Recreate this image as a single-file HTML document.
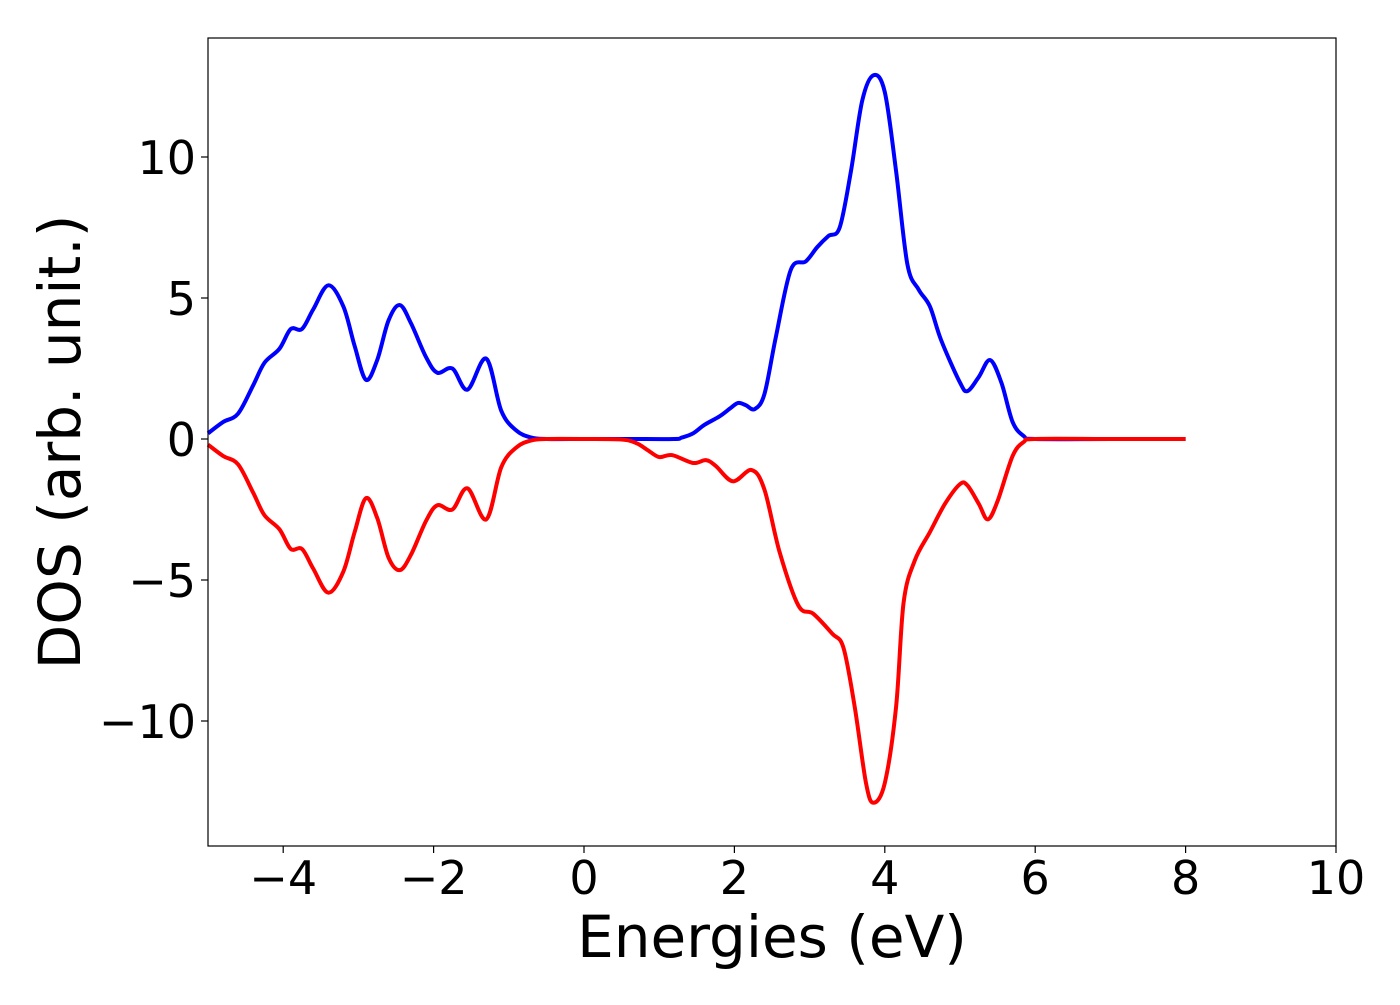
<!DOCTYPE html>
<html><head><meta charset="utf-8"><style>
html,body{margin:0;padding:0;background:#fff;}
svg text{font-family:"DejaVu Sans","Liberation Sans",sans-serif;fill:#000;}
</style></head><body>
<svg id="chart" width="1400" height="1000" xmlns="http://www.w3.org/2000/svg">
<rect width="1400" height="1000" fill="#fff"/>
<g id="ticks"></g>
<path id="spin-up" fill="none" stroke="#0000ff" stroke-width="4" stroke-linejoin="round"/>
<path id="spin-down" fill="none" stroke="#ff0000" stroke-width="4" stroke-linejoin="round"/>
<rect x="208" y="38" width="1128" height="808" fill="none" stroke="#000" stroke-width="1.2"/>
<text x="772" y="957" font-size="58" text-anchor="middle">Energies (eV)</text>
<text transform="translate(80,442) rotate(-90)" font-size="58" text-anchor="middle">DOS (arb. unit.)</text>
</svg>
<script>
const upE = [-5,-4.8,-4.6,-4.4,-4.25,-4.05,-3.9,-3.75,-3.6,-3.4,-3.2,-3.05,-2.9,-2.75,-2.6,-2.45,-2.3,-2.1,-1.95,-1.75,-1.55,-1.3,-1.1,-0.9,-0.7,-0.5,0,0.6,1.2,1.3,1.45,1.6,1.8,1.95,2.05,2.15,2.27,2.4,2.55,2.75,2.95,3.1,3.25,3.4,3.55,3.7,3.85,4.0,4.15,4.3,4.45,4.6,4.75,5.0,5.1,5.25,5.4,5.55,5.7,5.85,6.0,7,8];
const upDOS = [0.2,0.6,0.9,1.9,2.7,3.2,3.9,3.9,4.6,5.45,4.7,3.3,2.1,2.8,4.2,4.75,4.1,2.9,2.35,2.5,1.75,2.85,1.0,0.3,0.05,0,0,0,0,0.05,0.2,0.5,0.8,1.1,1.28,1.2,1.06,1.6,3.6,6.0,6.3,6.8,7.2,7.5,9.5,12.0,12.9,12.3,9.5,6.2,5.3,4.7,3.5,2.0,1.7,2.2,2.8,2.0,0.6,0.1,0,0,0];
const dnE = [-5,-4.8,-4.6,-4.4,-4.25,-4.05,-3.9,-3.75,-3.6,-3.4,-3.2,-3.05,-2.9,-2.75,-2.6,-2.45,-2.3,-2.1,-1.95,-1.75,-1.55,-1.3,-1.1,-0.9,-0.7,-0.5,0,0.5,0.7,0.85,1.0,1.17,1.45,1.62,1.75,1.98,2.23,2.4,2.6,2.85,3.05,3.3,3.45,3.6,3.75,3.85,4.0,4.15,4.25,4.4,4.6,4.8,5.0,5.1,5.25,5.37,5.5,5.7,5.85,6.0,7,8];
const dnDOS = [-0.2,-0.6,-0.9,-1.9,-2.7,-3.2,-3.9,-3.9,-4.6,-5.45,-4.7,-3.3,-2.1,-2.8,-4.2,-4.65,-4.1,-2.9,-2.35,-2.5,-1.75,-2.85,-1.0,-0.3,-0.05,0,0,-0.02,-0.15,-0.4,-0.64,-0.57,-0.85,-0.75,-0.95,-1.5,-1.1,-1.8,-4.0,-5.9,-6.2,-6.9,-7.4,-9.5,-12.2,-12.9,-12.2,-9.5,-5.8,-4.3,-3.3,-2.3,-1.6,-1.65,-2.3,-2.85,-2.2,-0.6,-0.1,0,0,0];
const xTicks = [-4,-2,0,2,4,6,8,10];
const xTickLabels = ["−4","−2","0","2","4","6","8","10"];
const yTicks = [-10,-5,0,5,10];
const yTickLabels = ["−10","−5","0","5","10"];

const X = e => 584 + 75.2*e;
const Y = d => 439 - 28.2*d;
function pathFor(es, ds){
  const p = es.map((e,i)=>[X(e),Y(ds[i])]);
  let s = `M${p[0][0]},${p[0][1]}`;
  for(let i=0;i<p.length-1;i++){
    const p0=p[Math.max(0,i-1)],p1=p[i],p2=p[i+1],p3=p[Math.min(p.length-1,i+2)];
    const c1=[p1[0]+(p2[0]-p0[0])/6,p1[1]+(p2[1]-p0[1])/6];
    const c2=[p2[0]-(p3[0]-p1[0])/6,p2[1]-(p3[1]-p1[1])/6];
    s+=` C${c1[0]},${c1[1]} ${c2[0]},${c2[1]} ${p2[0]},${p2[1]}`;
  }
  return s;
}
document.getElementById('spin-up').setAttribute('d', pathFor(upE, upDOS));
document.getElementById('spin-down').setAttribute('d', pathFor(dnE, dnDOS));
const NS='http://www.w3.org/2000/svg', g=document.getElementById('ticks');
xTicks.forEach((t,i)=>{
  const l=document.createElementNS(NS,'line');
  
  
  l.setAttribute('x1',X(t));l.setAttribute('x2',X(t));l.setAttribute('y1',846);l.setAttribute('y2',853);l.setAttribute('stroke','#000');l.setAttribute('stroke-width','1.2');
  g.appendChild(l);
  const tx=document.createElementNS(NS,'text');
  
  
  tx.setAttribute('x',X(t));tx.setAttribute('y',894);tx.setAttribute('font-size','46');tx.setAttribute('text-anchor','middle');
  tx.textContent=xTickLabels[i];g.appendChild(tx);
});
yTicks.forEach((t,i)=>{
  const l=document.createElementNS(NS,'line');
  
  
  l.setAttribute('x1',201);l.setAttribute('x2',208);l.setAttribute('y1',Y(t));l.setAttribute('y2',Y(t));l.setAttribute('stroke','#000');l.setAttribute('stroke-width','1.2');
  g.appendChild(l);
  const tx=document.createElementNS(NS,'text');
  
  
  tx.setAttribute('x',196);tx.setAttribute('y',Y(t)+17);tx.setAttribute('font-size','46');tx.setAttribute('text-anchor','end');
  tx.textContent=yTickLabels[i];g.appendChild(tx);
});
</script>
</body></html>
